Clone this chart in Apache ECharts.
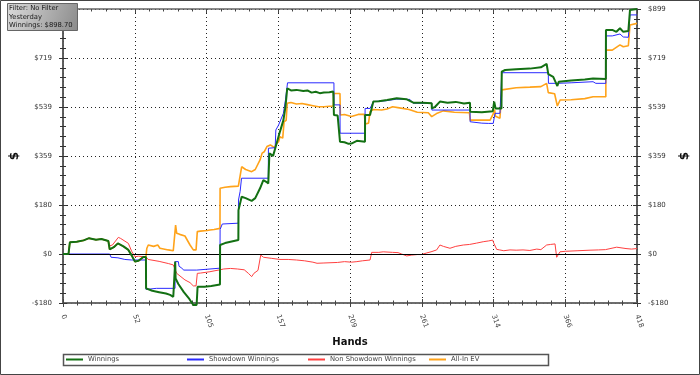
<!DOCTYPE html>
<html><head><meta charset="utf-8">
<script src="https://cdn.jsdelivr.net/npm/echarts@6/dist/echarts.min.js"></script>
<style>html,body{margin:0;padding:0;background:#fff}#c{width:700px;height:375px}</style>
</head><body><div id="c"></div>
<script>
// ---- data (hand, dollars) ----
const xMax = 418, xInterval = 52.25;
const yMin = -179.74, yMax = 898.7, yInterval = 179.74;
const infoLines = ["Filter: No Filter", "Yesterday", "Winnings: $898.70"];
const seriesNames = ["Winnings", "Showdown Winnings", "Non Showdown Winnings", "All-In EV"];

const winnings = [[0,0],[4,0],[5,43],[10,45],[15,50],[19,58],[24,52],[28,55],[33,48],[34,17],[37,25],[40,39],[44,28],[47.6,15],[50,-5],[52.4,-28],[55,-25],[58.5,-11],[60.4,-11],[60.5,-126],[65,-135],[70,-140],[75,-145],[78,-150],[80.3,-157],[81.6,-157],[81.7,-28],[82,-90],[84,-110],[88,-140],[92,-165],[94.9,-187],[97.3,-187],[98,-120],[103,-120],[108,-117],[114.3,-112],[114.4,33],[118,40],[122,45],[127.7,51],[127.8,161],[130.1,210],[133,205],[137.4,195],[140,205],[143.5,241],[145.9,271],[148,265],[149.5,259],[150.3,369],[153,360],[155.6,406],[158,449],[160.5,491],[162,540],[163.3,608],[166,600],[170,602],[175,598],[178,600],[181,592],[184,595],[187,590],[190,592],[194,593],[196.8,596],[197.3,510],[200,508],[201.7,412],[205,410],[208,404],[210,405],[214,415],[219.9,412],[220,510],[223.6,510],[226,559],[230,560],[236,565],[243,571],[250,568],[255.1,555],[262,555],[268.5,553],[268.6,534],[271,540],[274.5,559],[280,555],[286,558],[292,552],[296.4,555],[296.5,522],[305,520],[313,524],[314,559],[315,534],[319.3,534],[319.5,669],[322,675],[330,678],[340,680],[348,685],[352.2,697],[353.4,660],[357,650],[360,616],[361,632],[370,636],[380,640],[386,644],[395.3,642],[395.4,822],[400,822],[403,815],[405.6,828],[408,815],[411.7,818],[412.9,895],[418,899]];

const showdown = [[0,0],[34,0],[35,-12],[40,-14],[45,-20],[50,-22],[60.4,-22],[60.5,-130],[68,-126],[81.6,-126],[81.7,-28],[84,-28],[84.5,-45],[86,-50],[88,-59],[97.3,-59],[97.5,-52],[114.3,-52],[114.4,90],[116,110],[127.7,113],[127.8,198],[129,230],[130,278],[149.5,278],[149.6,388],[154.5,390],[155,455],[157,473],[160.5,516],[162,565],[163.5,628],[197.3,628],[197.4,547],[201.7,547],[201.8,443],[219.9,443],[220,534],[223.6,534],[226,559],[235,562],[243,568],[252.7,567],[255,553],[268.5,553],[268.6,528],[296.4,528],[296.5,485],[305,480],[310,479],[313.3,479],[314.6,516],[318.2,516],[319.5,665],[353.4,665],[353.5,626],[360,626],[370,628],[386,632],[388,626],[395.3,626],[395.4,800],[400,800],[405.6,807],[408,796],[411.7,795],[412.9,877],[418,877]];

const nonShowdown = [[0,0],[4,0],[5,43],[10,45],[15,50],[19,58],[24,52],[28,55],[33,48],[34,30],[36,33],[40.3,61],[42,57],[47.6,39],[50,10],[52.4,-10],[55,-8],[58.5,-10],[60.4,-10],[62,-20],[70,-27],[76.7,-35],[80.3,-40],[81.6,-47],[82.8,-71],[84,-75],[88.8,-95],[92.5,-105],[94.9,-117],[96.9,-117],[97.8,-71],[100,-70],[107,-65],[110,-62],[114.3,-58],[117,-55],[122,-53],[127,-55],[132,-58],[135,-71],[137.4,-83],[139,-71],[142,-60],[144,-4],[146,-12],[152,-16],[158,-20],[164,-20],[170,-22],[176,-25],[182,-30],[185,-34],[190,-33],[200,-31],[205,-28],[210,-30],[211.4,-36],[214,-28],[218,-25],[223.6,-22],[224.8,6],[230,6],[233.2,8],[240,6],[244,5],[246.6,0],[248,-7],[250.3,-7],[254,-4],[258,-2],[261.2,-2],[262,0],[264.9,4],[268,8],[272.1,15],[274.5,33],[277,28],[281.8,21],[286,28],[291.5,33],[296,35],[301.2,40],[306,45],[310,48],[312.9,51],[313.8,39],[315.8,17],[318,15],[321,12],[325.5,15],[330,14],[335,15],[340,13],[345,18],[348,16],[352.2,33],[355,35],[358.3,37],[359.5,-12],[361.9,8],[366,10],[375,12],[383.8,14],[390,15],[395,16],[403.2,25],[410,20],[414,18],[418,20]];

const allInEV = [[0,0],[4,0],[5,43],[10,45],[15,50],[19,58],[24,52],[28,55],[33,48],[34,17],[37,25],[40,39],[44,28],[47.6,15],[50,-5],[52.4,-28],[55,-25],[58.5,-11],[60.4,-11],[61,20],[62.1,33],[66,28],[69,33],[70.6,21],[76.7,15],[80.3,12],[81.6,12],[82,106],[82.8,76],[85,72],[88.8,66],[92.5,33],[94.9,15],[96.9,15],[97.8,82],[100,84],[105,86],[107,88],[110,90],[114.3,94],[114.4,241],[118,245],[122,247],[127.7,249],[129,255],[130.1,320],[133,310],[137.4,302],[140,310],[143.5,345],[145,370],[146.5,375],[148.5,394],[151,400],[154,390],[155.5,405],[157,412],[158,430],[160,425],[161,485],[162.5,490],[163.3,553],[166,556],[170,550],[174,552],[178,548],[182,544],[186,540],[190,540],[194,542],[196.8,543],[197.3,589],[201.7,589],[202,510],[205,512],[210,504],[215,512],[219.5,512],[220,477],[222.5,480],[223.6,522],[226,530],[232,528],[236,532],[240,540],[245,536],[252,530],[258,520],[266,518],[268.5,504],[272,515],[277,525],[285,520],[296,518],[296.5,491],[305,491],[311,491],[313.3,514],[314.3,530],[315,505],[318.2,498],[319.5,602],[320,608],[330,610],[340,612],[348,614],[352.2,626],[353.4,592],[358,588],[360,543],[362,565],[370,566],[380,570],[386,577],[395.3,577],[395.4,748],[400,748],[405.6,767],[408,760],[411.7,764],[412.9,840],[418,846]];

// ---- chart ----
const FONT = "DejaVu Sans";
const chart = echarts.init(document.getElementById('c'), null, {renderer: 'canvas'});
const money = v => { const r = Math.round(v); return (r < 0 ? '-$' : '$') + Math.abs(r); };
const colors = ['#137013', '#2a2aff', '#ff4040', '#ffa31a'];

function xAx(opts) {
  return Object.assign({
    type: 'value', min: 0, max: xMax, interval: xInterval,
    axisLine: {show: true, onZero: false, lineStyle: {color: '#666', width: 1.5}},
    axisTick: {show: true, length: 4, lineStyle: {color: '#444'}},
    minorTick: {show: true, splitNumber: 5, length: 2.5, lineStyle: {color: '#444'}},
    axisLabel: {show: false}, splitLine: {show: false}
  }, opts);
}
function yAx(opts) {
  return Object.assign({
    type: 'value', min: yMin, max: yMax, interval: yInterval,
    axisLine: {show: true, onZero: false, lineStyle: {color: '#555', width: 1.5}},
    axisTick: {show: true, length: 4, lineStyle: {color: '#333'}},
    minorTick: {show: true, splitNumber: 5, length: 3, lineStyle: {color: '#333'}},
    axisLabel: {show: false}, splitLine: {show: false}
  }, opts);
}
const legendX = [66, 187, 308, 429];
const legends = seriesNames.map((n, i) => ({
  left: legendX[i], top: 356, padding: 0, itemGap: 0, itemWidth: 17, itemHeight: 2, icon: 'rect',
  textStyle: {fontFamily: FONT, fontSize: 6.8, color: '#444'},
  selectedMode: false, data: [n]
}));
const txt = (s, y) => ({type: 'text', x: 2, y: y, z: 2, style: {text: s, fontFamily: FONT, fontSize: 6.8,
  fill: '#1a1a1a', verticalAlign: 'top', align: 'left'}});

const option = {
  backgroundColor: '#fff',
  animation: false,
  color: colors,
  grid: {left: 63, right: 63, top: 9, bottom: 72, containLabel: false},
  xAxis: [
    xAx({position: 'bottom', name: 'Hands', nameLocation: 'middle', nameGap: 34,
      nameTextStyle: {fontFamily: FONT, fontWeight: 'bold', fontSize: 10, color: '#111'},
      axisLabel: {show: true, rotate: -70, margin: 12, fontFamily: FONT, fontSize: 7, color: '#444',
        showMinLabel: true, showMaxLabel: true, formatter: v => String(Math.round(v))},
      splitLine: {show: true, lineStyle: {color: '#222', type: [1, 3], width: 1}}}),
    xAx({position: 'bottom', axisTick: {show: true, inside: true, length: 4, lineStyle: {color: '#444'}}}),
    xAx({position: 'top', axisTick: {show: true, inside: true, length: 4, lineStyle: {color: '#444'}}})
  ],
  yAxis: [
    yAx({position: 'left', name: '$', nameLocation: 'middle', nameGap: 38, nameRotate: 90,
      nameTextStyle: {fontFamily: FONT, fontWeight: 'bold', fontSize: 12, color: '#111'},
      axisLabel: {show: true, margin: 11, fontFamily: FONT, fontSize: 7, color: '#333',
        showMinLabel: true, showMaxLabel: true, formatter: money},
      splitLine: {show: true, lineStyle: {color: '#222', type: [1, 3], width: 1}}}),
    yAx({position: 'left', axisTick: {show: true, inside: true, length: 4, lineStyle: {color: '#333'}}}),
    yAx({position: 'right', name: '$', nameLocation: 'middle', nameGap: 40, nameRotate: 90,
      nameTextStyle: {fontFamily: FONT, fontWeight: 'bold', fontSize: 12, color: '#111'},
      axisLabel: {show: true, margin: 11, fontFamily: FONT, fontSize: 7, color: '#333',
        showMinLabel: true, showMaxLabel: true, formatter: money}}),
    yAx({position: 'right', axisTick: {show: true, inside: true, length: 4, lineStyle: {color: '#333'}}})
  ],
  legend: legends,
  graphic: [
    {type: 'rect', shape: {x: 0.5, y: 0.5, width: 699, height: 374},
      style: {fill: 'none', stroke: '#444', lineWidth: 1}, silent: true, z: 100},
    {type: 'rect', shape: {x: 63.5, y: 354.5, width: 485, height: 11},
      style: {fill: 'none', stroke: '#555', lineWidth: 1.5}, silent: true, z: 100},
    {type: 'rect', shape: {x: 7.5, y: 3.5, width: 70, height: 27},
      style: {fill: new echarts.graphic.LinearGradient(0, 0, 1, 1, [
        {offset: 0, color: '#dcdcdc'}, {offset: 1, color: '#8a8a8a'}]), stroke: '#666', lineWidth: 1},
      silent: true, z: 100},
    Object.assign(txt(infoLines[0], 5), {x: 9, z: 110}),
    Object.assign(txt(infoLines[1], 13.5), {x: 9, z: 110}),
    Object.assign(txt(infoLines[2], 22), {x: 9, z: 110})
  ],
  series: [
    {name: seriesNames[3], type: 'line', data: allInEV, symbol: 'none', clip: false, z: 2,
      lineStyle: {color: colors[3], width: 1.6}, itemStyle: {color: colors[3]}},
    {name: seriesNames[2], type: 'line', data: nonShowdown, symbol: 'none', clip: false, z: 3,
      lineStyle: {color: colors[2], width: 1}, itemStyle: {color: colors[2]},
      markLine: {silent: true, symbol: 'none', label: {show: false},
        lineStyle: {color: '#000', width: 1, type: 'solid'}, data: [{yAxis: 0}]}},
    {name: seriesNames[1], type: 'line', data: showdown, symbol: 'none', clip: false, z: 4,
      lineStyle: {color: colors[1], width: 1}, itemStyle: {color: colors[1]}},
    {name: seriesNames[0], type: 'line', data: winnings, symbol: 'none', clip: false, z: 5,
      lineStyle: {color: colors[0], width: 2}, itemStyle: {color: colors[0]}}
  ]
};
chart.setOption(option);
</script></body></html>
